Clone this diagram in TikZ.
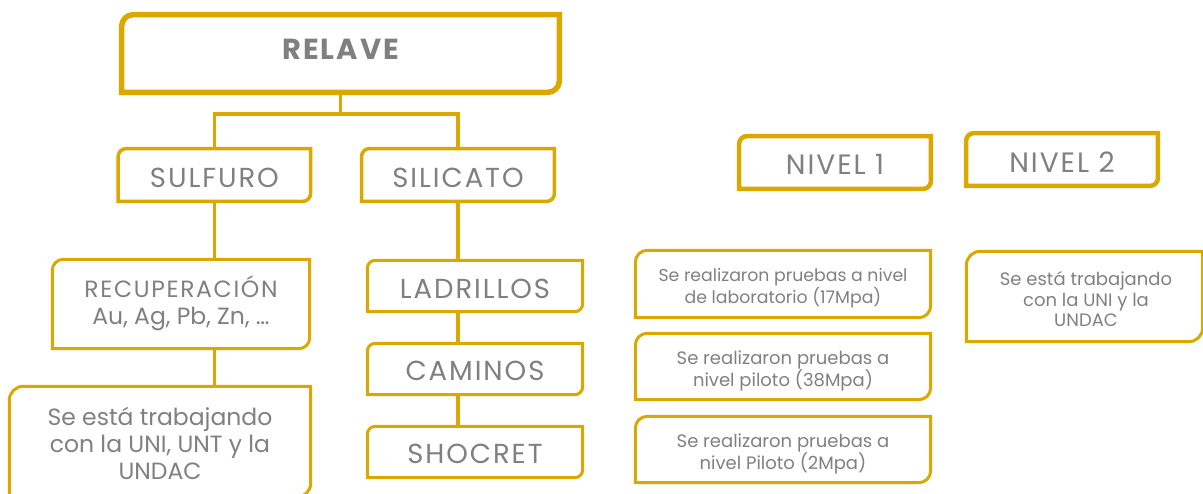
\documentclass[tikz,border=0pt]{standalone}
\usepackage{fontspec}
\setmainfont{Poppins}
\newfontfamily\capsfont{Poppins}[LetterSpace=7]
\definecolor{gold}{RGB}{218,168,0}
\definecolor{txt}{RGB}{128,128,128}
\tikzset{
  framenode/.style={draw=none, inner sep=0pt},
  txtnode/.style={draw=none, inner sep=0pt, align=center, text=txt},
  bigtext/.style={font=\capsfont\fontsize{27.5}{31}\selectfont},
  midtext/.style={font=\fontsize{23.5}{26.7}\selectfont},
  smalltext/.style={font=\fontsize{18}{20.5}\selectfont},
  niveltext/.style={font=\capsfont\fontsize{28}{32}\selectfont},
  conn/.style={draw=gold, line width=3.5pt},
}
\newcommand\frameit[3]{\draw[gold, line width=#2] (#1.south west) -- ([yshift=-#3]#1.north west) arc[start angle=180,end angle=90,radius=#3] -- (#1.north east) -- ([yshift=#3]#1.south east) arc[start angle=0,end angle=-90,radius=#3] -- cycle;}
\begin{document}
\begin{tikzpicture}[x=1pt,y=1pt]
\useasboundingbox (0,0) rectangle (1203,-494);
% left tree frames
\node[framenode, minimum width=437.5pt, minimum height=77.5pt] (relave) at (340.5,-53.5) {};
\node[framenode, minimum width=192pt, minimum height=52.5pt] (sulfuro) at (214.4,-175) {};
\node[framenode, minimum width=192.5pt, minimum height=52.5pt] (silicato) at (458,-175) {};
\node[framenode, minimum width=257pt, minimum height=89pt] (recup) at (181,-304) {};
\node[framenode, minimum width=301pt, minimum height=110.5pt] (trab) at (160,-441.75) {};
\node[framenode, minimum width=215pt, minimum height=51pt] (ladr) at (475,-286) {};
\node[framenode, minimum width=215pt, minimum height=51pt] (cami) at (475,-369) {};
\node[framenode, minimum width=215pt, minimum height=51pt] (shoc) at (475,-452) {};
% right side frames
\node[framenode, minimum width=191.5pt, minimum height=52.5pt] (niv1) at (835,-162.5) {};
\node[framenode, minimum width=191.5pt, minimum height=52.5pt] (niv2) at (1062,-159.5) {};
\node[framenode, minimum width=295pt, minimum height=67pt] (lab) at (783,-284) {};
\node[framenode, minimum width=295pt, minimum height=66pt] (pil1) at (783,-366.5) {};
\node[framenode, minimum width=295pt, minimum height=66pt] (pil2) at (783,-449.5) {};
\node[framenode, minimum width=236pt, minimum height=90pt] (uni) at (1084.5,-296.5) {};
% texts
\node[txtnode, font=\capsfont\fontsize{29}{33}\selectfont\bfseries] (relavet) at ([yshift=4pt]relave.center) {RELAVE};
\node[txtnode, bigtext] (sulfurot) at ([yshift=-2.5pt]sulfuro.center) {SULFURO};
\node[txtnode, bigtext] (silicatot) at ([yshift=-2.5pt]silicato.center) {SILICATO};
\node[txtnode, midtext] (recupt) at ([yshift=1pt]recup.center) {{\capsfont RECUPERACIÓN}\\Au, Ag, Pb, Zn, …};
\node[txtnode, midtext] (trabt) at ([yshift=-1.75pt]trab.center) {Se está trabajando\\con la UNI, UNT y la\\UNDAC};
\node[txtnode, bigtext] (ladrt) at ([yshift=-2.5pt]ladr.center) {LADRILLOS};
\node[txtnode, bigtext] (camit) at ([yshift=-2pt]cami.center) {CAMINOS};
\node[txtnode, bigtext] (shoct) at ([yshift=-1.5pt]shoc.center) {SHOCRET};
\node[txtnode, niveltext] (niv1t) at ([yshift=-1.5pt]niv1.center) {NIVEL 1};
\node[txtnode, niveltext] (niv2t) at ([yshift=-2.5pt]niv2.center) {NIVEL 2};
\node[txtnode, smalltext, font=\fontsize{17.3}{20}\selectfont] (labt) at ([yshift=-4pt]lab.center) {Se realizaron pruebas a nivel\\de laboratorio (17Mpa)};
\node[txtnode, smalltext] (pil1t) at ([yshift=-4.5pt]pil1.center) {Se realizaron pruebas a\\nivel piloto (38Mpa)};
\node[txtnode, smalltext] (pil2t) at ([yshift=-4.5pt]pil2.center) {Se realizaron pruebas a\\nivel Piloto (2Mpa)};
\node[txtnode, smalltext] (unit) at ([yshift=-3pt,xshift=1.5pt]uni.center) {Se está trabajando\\con la UNI y la\\UNDAC};
% frames
\frameit{relave}{5.5pt}{12pt}
\frameit{sulfuro}{3.5pt}{8pt}
\frameit{silicato}{3.5pt}{8pt}
\frameit{recup}{3pt}{11pt}
\frameit{trab}{3pt}{14pt}
\frameit{ladr}{3pt}{8pt}
\frameit{cami}{3pt}{8pt}
\frameit{shoc}{3pt}{8pt}
\frameit{niv1}{4.5pt}{8pt}
\frameit{niv2}{4.5pt}{8pt}
\frameit{lab}{3pt}{12pt}
\frameit{pil1}{3pt}{12pt}
\frameit{pil2}{3pt}{12pt}
\frameit{uni}{3pt}{14pt}
% connectors
\draw[conn] (relave.south) -- ++(0,-21.75) coordinate (split) -| (sulfuro.north);
\draw[conn] (split) -| (silicato.north);
\draw[conn] (sulfuro.south) -- (sulfuro.south |- recup.north);
\draw[conn] (sulfuro.south |- recup.south) -- (sulfuro.south |- trab.north);
\draw[conn] (silicato.south) -- (silicato.south |- ladr.north);
\draw[conn] (silicato.south |- ladr.south) -- (silicato.south |- cami.north);
\draw[conn] (silicato.south |- cami.south) -- (silicato.south |- shoc.north);
\end{tikzpicture}
\end{document}
